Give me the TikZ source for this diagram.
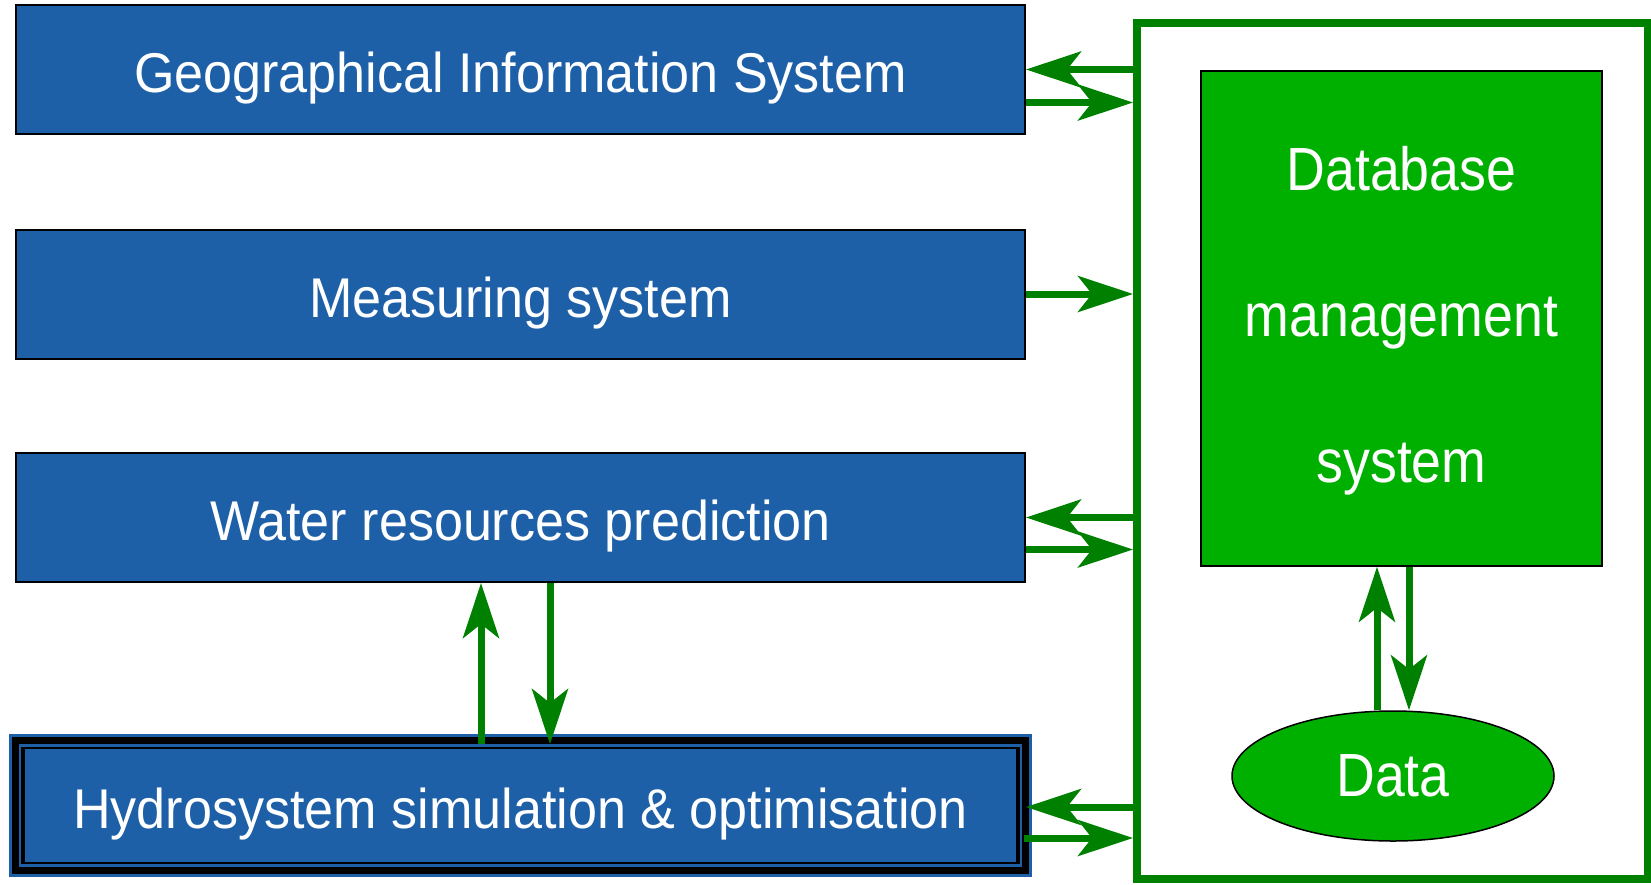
\documentclass[tikz,border=0pt]{standalone}
\usepackage{fontspec}
\setmainfont{Liberation Sans}[FakeStretch=0.93]
\newfontfamily\dbfont{Liberation Sans}[FakeStretch=0.88]
\usetikzlibrary{arrows.meta,shapes.geometric}
\definecolor{boxblue}{RGB}{30,96,168}
\definecolor{arrgreen}{RGB}{0,128,0}
\definecolor{dbgreen}{RGB}{0,176,0}
\begin{document}
\begin{tikzpicture}[x=1pt,y=-1pt,
  bluetext/.style={text=white, inner sep=0pt, text height=56pt, text depth=10pt,
    font=\fontsize{56}{56}\selectfont},
  bluebox/.style={bluetext, draw=black, line width=2pt, fill=boxblue,
    minimum width=1009pt, minimum height=129pt},
  arr/.style={draw=arrgreen, line width=7pt,
    -{Stealth[length=55pt,width=36pt,inset=14pt]}},
  dbtext/.style={text=white, font=\dbfont\fontsize{61}{146}\selectfont}
]
\useasboundingbox (0,0) rectangle (1651,884);

% left boxes
\node[bluebox] (gis) at (520.5,69.5) {Geographical Information System};
\node[bluebox] (meas) at (520.5,294) {Measuring system};
\node[bluebox] (water) at (520.5,517.5) {Water resources prediction};

% hydrosystem box with multiple border
\node[draw=boxblue, line width=3pt, fill=black, minimum width=1020pt,
  minimum height=140pt, inner sep=0pt] (hydroout) at (520.5,805.5) {};
\node[draw=boxblue, line width=2.5pt, minimum width=1001pt,
  minimum height=120pt, inner sep=0pt] (hydromid) at (520.5,805.5) {};
\node[bluetext, fill=boxblue, minimum width=991pt, minimum height=113pt]
  (hydro) at (520.5,805.5) {Hydrosystem simulation \& optimisation};

% right frame
\node[draw=arrgreen, line width=8pt, minimum width=511pt, minimum height=856pt,
  inner sep=0pt] (frame) at (1392.5,451) {};

% DBMS box
\node[draw=black, line width=1.5pt, fill=dbgreen, minimum width=401pt,
  minimum height=495pt, inner sep=0pt] (dbms) at (1401.5,318.5) {};
\node[dbtext, align=center, inner sep=0pt] (dbmstext) at ([yshift=-2pt]dbms.center)
  {Database\\management\\system};

% Data ellipse
\node[ellipse, draw=black, line width=1.5pt, fill=dbgreen, minimum width=322pt,
  minimum height=130pt, inner sep=0pt, dbtext] (data) at (1393,776) {Data};

% horizontal arrows
\draw[arr] (frame.west |- gis.east) -- (gis.east);
\coordinate (g2) at ([yshift=-33pt]gis.east);
\draw[arr] (g2) -- (frame.west |- g2);

\draw[arr] (meas.east) -- (frame.west |- meas.east);

\draw[arr] (frame.west |- water.east) -- (water.east);
\coordinate (w2) at ([yshift=-32pt]water.east);
\draw[arr] (w2) -- (frame.west |- w2);

\coordinate (h1) at ([yshift=-1.5pt,xshift=-6pt]hydroout.east);
\draw[arr] (frame.west |- h1) -- (h1);
\coordinate (h2) at ([yshift=-32.5pt,xshift=-8pt]hydroout.east);
\draw[arr] (h2) -- (frame.west |- h2);

% vertical arrows between water and hydro
\coordinate (v1) at ([xshift=-39.5pt,yshift=-10pt]hydroout.north);
\draw[arr] (v1) -- (v1 |- water.south);
\coordinate (v2) at ([xshift=29.5pt]water.south);
\draw[arr] (v2) -- (v2 |- v1);

% arrows between DBMS and Data
\coordinate (d1) at ([xshift=-16pt]data.north);
\draw[arr] (d1) -- (d1 |- dbms.south);
\coordinate (d2) at ([xshift=16pt]data.north);
\draw[arr] (d2 |- dbms.south) -- (d2);
\end{tikzpicture}
\end{document}
